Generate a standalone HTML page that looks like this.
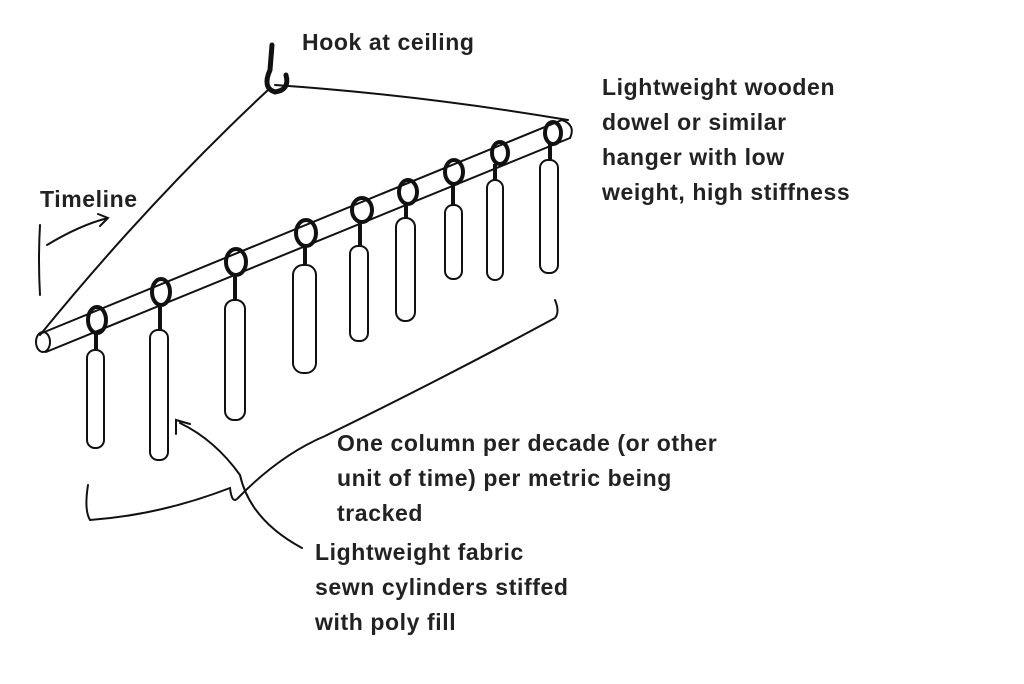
<!DOCTYPE html>
<html><head><style>
body{margin:0;background:#fff;}
svg{display:block;}
text{font-family:"Liberation Sans",sans-serif;font-weight:bold;font-size:23px;letter-spacing:0.6px;fill:#222;}
</style></head><body>
<svg width="1024" height="684" viewBox="0 0 1024 684" xmlns="http://www.w3.org/2000/svg">
<g fill="none" stroke="#111" stroke-width="2" stroke-linecap="round">
<path d="M268,90 Q150,200 40,335"/>
<path d="M275,85 Q420,95 568,120"/>
<path d="M272,45 L270,70 Q262,88 275,92 Q290,90 286,75" stroke-width="5"/>
<path d="M42,333 L562,120 M46,352 L570,138"/>
<ellipse cx="43" cy="342" rx="7" ry="10"/>
<path d="M562,120 Q576,125 570,138"/>
<path d="M40,225 Q38,260 40,295"/>
<path d="M47,245 Q80,225 108,218 M98,214 L108,218 L100,226"/>
<path d="M88,485 Q84,510 90,520 Q160,515 230,488 Q232,505 238,498 Q280,455 325,436 Q440,380 555,318 Q560,312 555,300"/>
<path d="M302,548 Q250,520 240,475 Q215,440 180,423 M176,434 L176,420 L190,424"/>
</g>
<g fill="#fff" stroke="#111" stroke-width="2">
<rect x="87" y="350" width="17" height="98" rx="8"/>
<rect x="150" y="330" width="18" height="130" rx="8"/>
<rect x="225" y="300" width="20" height="120" rx="9"/>
<rect x="293" y="265" width="23" height="108" rx="10"/>
<rect x="350" y="246" width="18" height="95" rx="8"/>
<rect x="396" y="218" width="19" height="103" rx="9"/>
<rect x="445" y="205" width="17" height="74" rx="8"/>
<rect x="487" y="180" width="16" height="100" rx="8"/>
<rect x="540" y="160" width="18" height="113" rx="8"/>
</g>
<g fill="none" stroke="#111" stroke-width="4">
<ellipse cx="97" cy="320" rx="9" ry="13"/><path d="M96,333 V350"/>
<ellipse cx="161" cy="292" rx="9" ry="13"/><path d="M160,305 V330"/>
<ellipse cx="236" cy="262" rx="10" ry="13"/><path d="M235,275 V300"/>
<ellipse cx="306" cy="233" rx="10" ry="13"/><path d="M305,246 V265"/>
<ellipse cx="362" cy="210" rx="10" ry="12"/><path d="M360,222 V246"/>
<ellipse cx="408" cy="192" rx="9" ry="12"/><path d="M406,204 V218"/>
<ellipse cx="454" cy="172" rx="9" ry="12"/><path d="M453,184 V205"/>
<ellipse cx="500" cy="153" rx="8" ry="11"/><path d="M495,164 V180"/>
<ellipse cx="553" cy="133" rx="8" ry="11"/><path d="M550,144 V160"/>
</g>
<text x="302" y="50">Hook at ceiling</text>
<text x="602" y="95">Lightweight wooden</text>
<text x="602" y="130">dowel or similar</text>
<text x="602" y="165">hanger with low</text>
<text x="602" y="200">weight, high stiffness</text>
<text x="40" y="207">Timeline</text>
<text x="337" y="451">One column per decade (or other</text>
<text x="337" y="486">unit of time) per metric being</text>
<text x="337" y="521">tracked</text>
<text x="315" y="560">Lightweight fabric</text>
<text x="315" y="595">sewn cylinders stiffed</text>
<text x="315" y="630">with poly fill</text>
</svg>
</body></html>
